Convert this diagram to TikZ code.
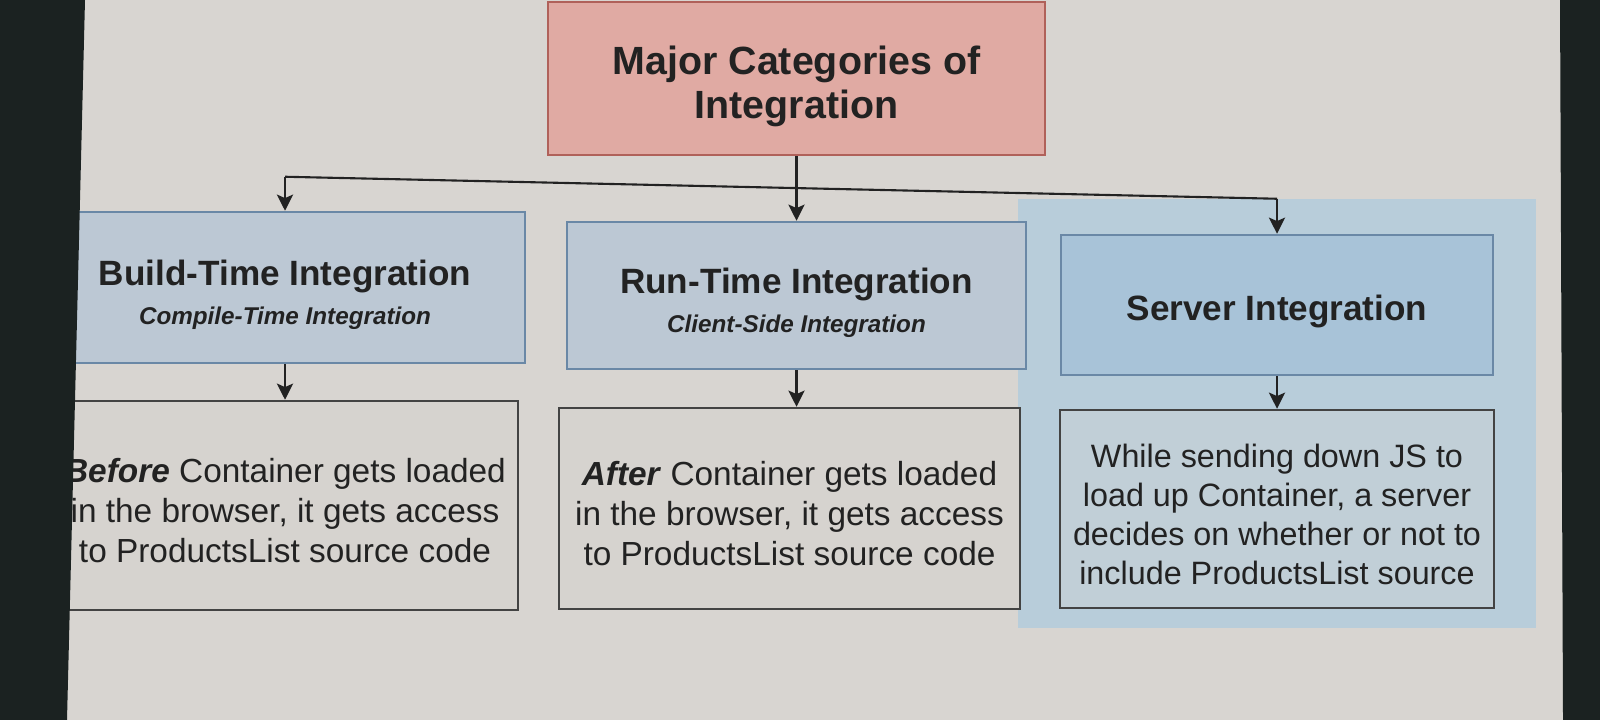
\documentclass[tikz,border=0pt]{standalone}
\usepackage{fontspec}
\setmainfont{Liberation Sans}
\usetikzlibrary{arrows.meta}
\definecolor{screen-bg}{HTML}{D8D5D1}
\definecolor{bezel}{HTML}{1B2221}
\definecolor{head-red}{HTML}{E0AAA3}
\definecolor{head-red-line}{HTML}{B0615A}
\definecolor{cat-blue}{HTML}{BCC8D4}
\definecolor{cat-blue-line}{HTML}{6A88A6}
\definecolor{server-blue}{HTML}{A8C3D8}
\definecolor{server-glow}{HTML}{B8CDDA}
\definecolor{note-grey}{HTML}{D6D3CF}
\definecolor{ink}{HTML}{222222}

\begin{document}
\begin{tikzpicture}[
        every node/.style={text=ink, inner sep=0pt, align=center},
        catbox/.style={draw=cat-blue-line, line width=0.7pt, fill=cat-blue,
          font=\fontsize{10}{11.1}\selectfont},
        notebox/.style={draw=ink!85, line width=0.7pt, fill=note-grey,
          font=\fontsize{9.5}{11.4}\selectfont},
        arr/.style={draw=ink, line width=0.6pt,
          -{Stealth[length=4.6pt, width=4.6pt, inset=1pt]}}]
      \useasboundingbox (0,0) rectangle (16,7.2);
      \fill[screen-bg] (0,0) rectangle (16,7.2);
      \fill[server-glow] (10.18,0.92) rectangle (15.36,5.21);
      % top box
      \node[draw=head-red-line, line width=0.7pt, fill=head-red,
        minimum width=4.97cm, minimum height=1.53cm,
        font=\bfseries\fontsize{11.2}{12.6}\selectfont] (major) at (7.965,6.415)
        {\rule{0pt}{12.5pt}Major Categories of\\Integration};
      % categories
      \node[catbox, minimum width=4.8cm, minimum height=1.51cm] (build) at (2.85,4.325)
        {{\bfseries\rule{0pt}{11.5pt}Build-Time Integration}\\
         {\bfseries\itshape\fontsize{6.9}{8}\selectfont Compile-Time Integration}};
      \node[catbox, minimum width=4.59cm, minimum height=1.47cm] (run) at (7.965,4.245)
        {{\bfseries\rule{0pt}{11.5pt}Run-Time Integration}\\
         {\bfseries\itshape\fontsize{6.9}{8}\selectfont Client-Side Integration}};
      \node[catbox, fill=server-blue, minimum width=4.32cm, minimum height=1.40cm] (server) at (12.77,4.15)
        {\bfseries\rule{0pt}{11.2pt}Server Integration};
      % descriptions
      \node[notebox, minimum width=4.66cm, minimum height=2.09cm] (buildnote) at (2.85,2.145)
        {\rule{0pt}{9.8pt}\textbf{\textit{Before}} Container gets loaded\\in the browser, it gets access\\to ProductsList source code};
      \node[notebox, minimum width=4.61cm, minimum height=2.01cm] (runnote) at (7.895,2.115)
        {\rule{0pt}{9.8pt}\textbf{\textit{After}} Container gets loaded\\in the browser, it gets access\\to ProductsList source code};
      \node[notebox, fill=server-glow!70!note-grey, minimum width=4.34cm, minimum height=1.98cm,
        font=\fontsize{9.2}{11.1}\selectfont] (servernote) at (12.77,2.11)
        {\rule{0pt}{9.5pt}While sending down JS to\\load up Container, a server\\decides on whether or not to\\include ProductsList source};
      % connectors
      \path (build.north) ++(0,0.34) coordinate (busL);
      \path (server.north) ++(0,0.35) coordinate (busR);
      \draw[line width=0.6pt, ink] (busL) -- (busR);
      \draw[arr] (major.south) -- (major.south |- run.north);
      \draw[arr] (busL) -- (build.north);
      \draw[arr] (busR) -- (server.north);
      \draw[arr] (build.south) -- (buildnote.north);
      \draw[arr] (run.south) -- (run.south |- runnote.north);
      \draw[arr] (server.south) -- (servernote.north);
      % screen edges
      \fill[bezel] (0,7.2) -- (0.85,7.2) -- (0.67,0) -- (0,0) -- cycle;
      \fill[bezel] (15.60,7.2) -- (16,7.2) -- (16,0) -- (15.63,0) -- cycle;
    \end{tikzpicture}
\end{document}
